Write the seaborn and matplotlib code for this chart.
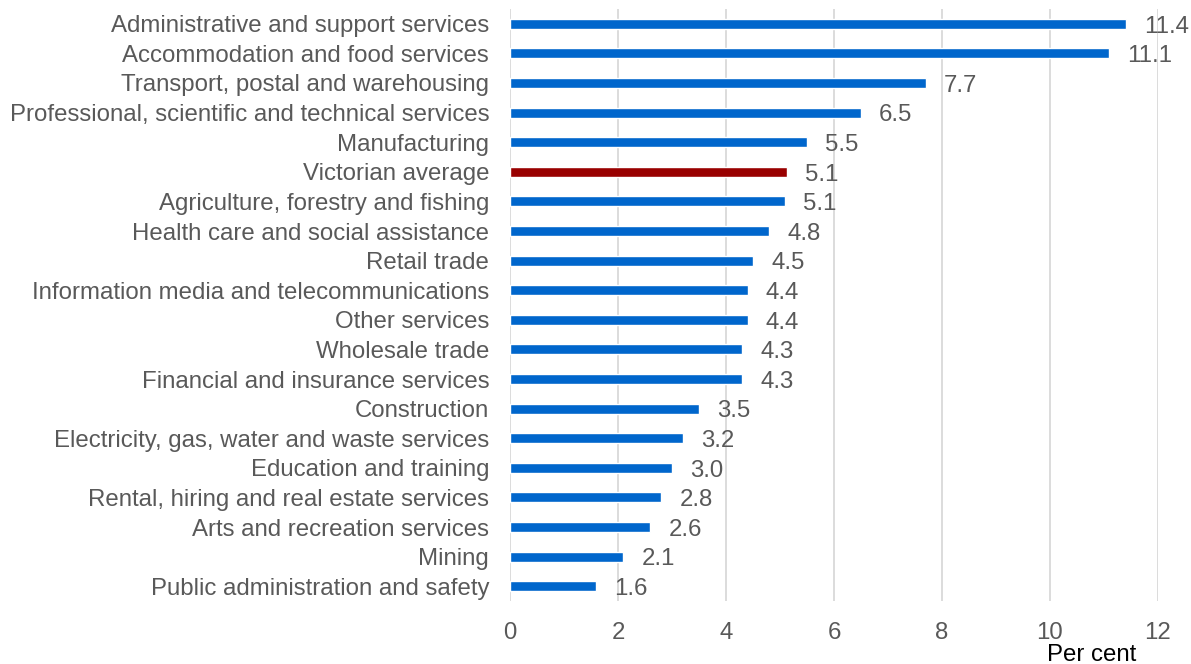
import matplotlib
matplotlib.use("Agg")
import matplotlib.pyplot as plt
import seaborn as sns
import pandas as pd

industries = [
    "Administrative and support services",
    "Accommodation and food services",
    "Transport, postal and warehousing",
    "Professional, scientific and technical services",
    "Manufacturing",
    "Victorian average",
    "Agriculture, forestry and fishing",
    "Health care and social assistance",
    "Retail trade",
    "Information media and telecommunications",
    "Other services",
    "Wholesale trade",
    "Financial and insurance services",
    "Construction",
    "Electricity, gas, water and waste services",
    "Education and training",
    "Rental, hiring and real estate services",
    "Arts and recreation services",
    "Mining",
    "Public administration and safety",
]
rates = [11.4, 11.1, 7.7, 6.5, 5.5, 5.13, 5.1, 4.8, 4.5, 4.4,
         4.4, 4.3, 4.3, 3.5, 3.2, 3.0, 2.8, 2.6, 2.1, 1.6]
x_ticks = [0, 2, 4, 6, 8, 10, 12]

BLUE = "#0066CC"
RED = "#990000"
GREY_TEXT = "#595959"
FS = 17.3

df = pd.DataFrame({"industry": industries, "rate": rates})
palette = {k: (RED if k == "Victorian average" else BLUE) for k in industries}

sns.set_style("white")
plt.rcParams["font.family"] = ["Liberation Sans", "DejaVu Sans"]

fig = plt.figure(figsize=(11.91, 6.64), dpi=100)
ax = fig.add_axes([510 / 1191, 1 - 601 / 664, (1158 - 510) / 1191, (601 - 9) / 664])

sns.barplot(data=df, x="rate", y="industry", hue="industry", palette=palette,
            legend=False, width=0.34, ax=ax, zorder=3, saturation=1)

ax.set_xlim(0, 12)
ax.set_xticks(x_ticks)
ax.grid(axis="x", color="#D9D9D9", linewidth=1.3, zorder=0)
ax.grid(axis="y", visible=False)
for s in ax.spines.values():
    s.set_visible(False)
ax.tick_params(axis="both", length=0, labelsize=FS, labelcolor=GREY_TEXT)
ax.tick_params(axis="y", pad=15)
ax.tick_params(axis="x", pad=15)
ax.set_xlabel("")
ax.set_ylabel("")

for i, v in enumerate(rates):
    ax.annotate(f"{v:.1f}", xy=(v, i), xytext=(13, -2), textcoords="offset points",
                va="center", ha="left", fontsize=FS, color=GREY_TEXT, clip_on=False,
                zorder=4)

fig.text(1092 / 1191, 1 - 655 / 664, "Per cent", ha="center", va="center",
         fontsize=FS, color="black")

fig.savefig("out.png", dpi=100, facecolor="white")
